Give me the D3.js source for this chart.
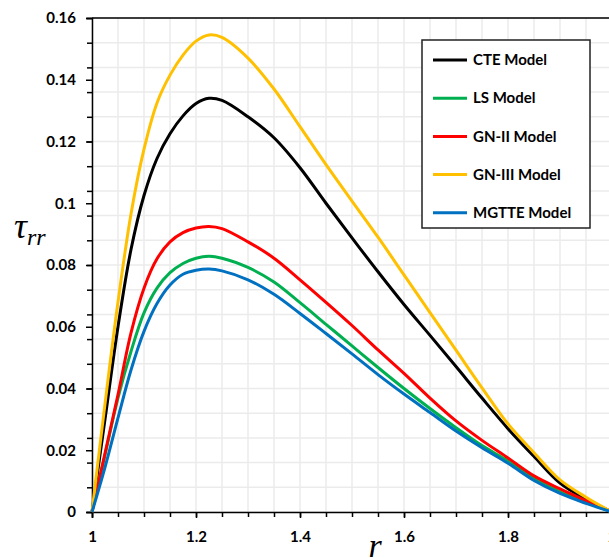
<!DOCTYPE html>
<html>
<head>
<meta charset="utf-8">
<script src="https://cdn.jsdelivr.net/npm/d3@7"></script>
<style>
  body { margin: 0; background: #fff; overflow: hidden; }
  text { font-family: Lato, "Open Sans", sans-serif; }
</style>
</head>
<body>
<div id="graph"></div>
<script>
// radius values (x)
const rValues = [1, 1.025, 1.05, 1.075, 1.1, 1.125, 1.15, 1.175, 1.2, 1.225, 1.25, 1.3, 1.35,
  1.4, 1.45, 1.5, 1.55, 1.6, 1.65, 1.7, 1.75, 1.8, 1.85, 1.9, 1.95, 2];

const cteValues = [0, 0.03, 0.06, 0.085, 0.1025, 0.1145, 0.1225, 0.1283, 0.1323, 0.134, 0.1333, 0.128, 0.1212,
  0.1115, 0.1, 0.0888, 0.0778, 0.0672, 0.0572, 0.0471, 0.0369, 0.027, 0.018, 0.0094, 0.0042, 0];
const lsValues = [0, 0.0185, 0.037, 0.052, 0.0645, 0.0725, 0.0775, 0.0805, 0.0822, 0.0828, 0.0822, 0.0792, 0.0745,
  0.0678, 0.0608, 0.0538, 0.0468, 0.04, 0.0335, 0.0273, 0.0215, 0.0165, 0.0108, 0.0065, 0.0031, 0];
const gn2Values = [0, 0.019, 0.038, 0.058, 0.0725, 0.082, 0.0875, 0.0905, 0.092, 0.0925, 0.0918, 0.0875, 0.0822,
  0.0752, 0.0679, 0.0604, 0.0525, 0.0449, 0.0369, 0.0295, 0.0232, 0.0175, 0.0117, 0.0075, 0.0037, 0];
const gn3Values = [0, 0.035, 0.068, 0.0965, 0.1175, 0.1325, 0.1415, 0.148, 0.1525, 0.1545, 0.1537, 0.147, 0.137,
  0.1248, 0.1125, 0.1007, 0.089, 0.0768, 0.0646, 0.0524, 0.0402, 0.0285, 0.0192, 0.0104, 0.0048, 0];
const mgtteValues = [0, 0.0145, 0.0305, 0.046, 0.0585, 0.0675, 0.0735, 0.077, 0.0783, 0.0787, 0.0781, 0.0752, 0.0705,
  0.0643, 0.0578, 0.0512, 0.0445, 0.0382, 0.0322, 0.0262, 0.0208, 0.0158, 0.0102, 0.006, 0.0028, 0];

const seriesNames = ["CTE Model", "LS Model", "GN-II Model", "GN-III Model", "MGTTE Model"];
const seriesColors = ["#000000", "#00B050", "#FF0000", "#FFC000", "#0070C0"];
const seriesValues = [cteValues, lsValues, gn2Values, gn3Values, mgtteValues];

const xTickValues = [1, 1.2, 1.4, 1.6, 1.8, 2];
const yTickValues = [0, 0.02, 0.04, 0.06, 0.08, 0.1, 0.12, 0.14, 0.16];

const margin = {top: 18, right: -3, bottom: 46, left: 92};
const width = 609 - margin.left - margin.right;
const height = 558 - margin.top - margin.bottom;

const svg = d3.select("#graph")
  .append("svg")
    .attr("width", 609)
    .attr("height", 558)
  .append("g")
    .attr("transform", "translate(" + margin.left + "," + margin.top + ")");

const x = d3.scaleLinear().domain([1, 2]).range([0, width]);
const y = d3.scaleLinear().domain([0, 0.16]).range([height, 0]);

// grid lines
const xGrid = d3.range(1, 2.0001, 0.05);
const yGrid = d3.range(0, 0.16001, 0.008);

svg.append("g")
  .selectAll("line")
  .data(xGrid)
  .enter()
  .append("line")
    .attr("x1", d => x(d)).attr("x2", d => x(d))
    .attr("y1", 0).attr("y2", height)
    .style("stroke", "#ebebeb")
    .style("stroke-width", 1.5);

svg.append("g")
  .selectAll("line")
  .data(yGrid)
  .enter()
  .append("line")
    .attr("x1", 0).attr("x2", width)
    .attr("y1", d => y(d)).attr("y2", d => y(d))
    .style("stroke", "#ebebeb")
    .style("stroke-width", 1.5);

// top border
svg.append("line")
  .attr("x1", 0).attr("x2", width)
  .attr("y1", 0).attr("y2", 0)
  .style("stroke", "#000")
  .style("stroke-width", 1.5);

// minor ticks
svg.append("g")
  .attr("transform", "translate(0," + height + ")")
  .call(d3.axisBottom(x).tickValues(xGrid).tickSize(5).tickFormat(""))
  .call(g => g.select(".domain").remove());

svg.append("g")
  .call(d3.axisLeft(y).tickValues(yGrid).tickSize(5).tickFormat(""))
  .call(g => g.select(".domain").remove());

// major axes
const xAxis = svg.append("g")
  .attr("transform", "translate(0," + height + ")")
  .call(d3.axisBottom(x).tickValues(xTickValues).tickSize(6).tickPadding(13).tickFormat(d3.format("")));

const yAxis = svg.append("g")
  .call(d3.axisLeft(y).tickValues(yTickValues).tickSize(6).tickPadding(10).tickFormat(d => d3.format("")(+d.toFixed(2))));

svg.selectAll(".tick line").style("stroke-width", 1.5);
svg.selectAll(".domain").style("stroke-width", 1.5);

xAxis.selectAll("text")
  .style("font-size", "15px")
  .style("font-weight", "bold")
  .style("fill", "#000");

yAxis.selectAll("text")
  .style("font-size", "15px")
  .style("font-weight", "bold")
  .style("fill", "#000");

// draw curves
const line = d3.line()
  .x((d, i) => x(rValues[i]))
  .y(d => y(d))
  .curve(d3.curveCatmullRom.alpha(0.5));

svg.selectAll(".curve")
  .data(seriesValues)
  .enter()
  .append("path")
    .attr("class", "curve")
    .attr("d", d => line(d))
    .style("fill", "none")
    .style("stroke", (d, i) => seriesColors[i])
    .style("stroke-width", 3);

// axis titles
svg.append("text")
  .attr("x", 283)
  .attr("y", 539)
  .attr("text-anchor", "middle")
  .style("font-family", "'Liberation Serif', 'DejaVu Serif', serif")
  .style("font-style", "italic")
  .style("font-size", "34px")
  .text("r");

const yLabel = svg.append("text")
  .attr("x", -78)
  .attr("y", 220)
  .style("font-family", "'Liberation Serif', 'DejaVu Serif', serif")
  .style("font-style", "italic");
yLabel.append("tspan").style("font-size", "36px").text("τ");
yLabel.append("tspan").attr("dy", 7).style("font-size", "24px").text("rr");

// legend
const legend = svg.append("g")
  .attr("transform", "translate(" + (422 - margin.left) + "," + (40 - margin.top) + ")");

legend.append("rect")
  .attr("width", 168)
  .attr("height", 188)
  .style("fill", "#fff")
  .style("stroke", "#222")
  .style("stroke-width", 1.5);

seriesNames.forEach((name, i) => {
  const row = legend.append("g")
    .attr("transform", "translate(0," + (20 + i * 38.2) + ")");
  row.append("line")
    .attr("x1", 11).attr("x2", 45)
    .style("stroke", seriesColors[i])
    .style("stroke-width", 3);
  row.append("text")
    .attr("x", 51)
    .attr("dy", "0.35em")
    .style("font-size", "15px")
    .style("font-weight", "bold")
    .text(name);
});
</script>
</body>
</html>
